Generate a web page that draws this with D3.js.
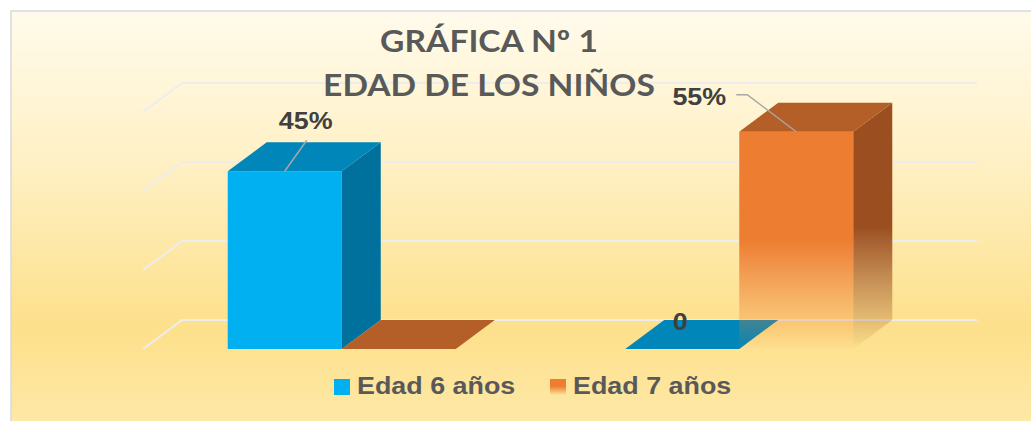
<!DOCTYPE html>
<html>
<head>
<meta charset="utf-8">
<script src="https://cdn.jsdelivr.net/npm/d3@7"></script>
<style>
  body { margin: 0; background: #fff; }
  svg { display: block; }
</style>
</head>
<body>
<svg id="chart"></svg>
<script>
// Chart data
const categories = ["Grupo 1", "Grupo 2"];
const series = ["Edad 6 años", "Edad 7 años"];
const edad6 = [0.45, 0];
const edad7 = [0, 0.55];
const labels6 = ["45%", "0"];
const labels7 = ["", "55%"];
const yTicks = [0, 0.2, 0.4, 0.6];
const titleLines = ["GRÁFICA Nº 1", "EDAD DE LOS NIÑOS"];

const W = 1031, H = 421;
const depth = { dx: 39, dy: 29 };   // 3D offset of the back wall
const plot = { left: 143, right: 938, base: 349, top: 112 };
const textStretch = 1.12;            // source picture is a bit wide

const colors = [
  { front: "#00b0f0", side: "#00709c", top: "#0086b8" },
  { front: "#ed7d31", side: "#9b4e1f", top: "#b45f27", fade: true }
];

// label offsets from the top-front centre of each bar (dragged labels in the original)
const labelPos = [
  [{ dx: 21, dy: -42, line: [[0, 0], [22, -31]] }, { dx: -2, dy: -19 }],
  [null, { dx: -97, dy: -27, line: [[0, 0], [-49, -37], [-60, -37]] }]
];

const svg = d3.select("#chart").attr("width", W).attr("height", H);
const defs = svg.append("defs");

const bg = defs.append("linearGradient").attr("id", "bg")
  .attr("x1", 0).attr("y1", 0).attr("x2", 0).attr("y2", 1);
[[0, "#fffbec"], [0.35, "#fff1c6"], [0.75, "#fde08b"], [1, "#fde9a9"]]
  .forEach(([o, c]) => bg.append("stop").attr("offset", o).attr("stop-color", c));

function fadeGrad(id, color, start) {
  const g = defs.append("linearGradient").attr("id", id)
    .attr("x1", 0).attr("y1", 0).attr("x2", 0).attr("y2", 1);
  g.append("stop").attr("offset", 0).attr("stop-color", color);
  g.append("stop").attr("offset", start).attr("stop-color", color);
  g.append("stop").attr("offset", 1).attr("stop-color", color).attr("stop-opacity", 0.02);
}
fadeGrad("fadeFront", colors[1].front, 0.5);
fadeGrad("fadeSide", colors[1].side, 0.5);
fadeGrad("fadeSwatch", colors[1].front, 0.45);

// Chart area frame
svg.append("rect")
  .attr("x", 11).attr("y", 11)
  .attr("width", W).attr("height", H)
  .attr("fill", "url(#bg)")
  .attr("stroke", "#d9d9d9").attr("stroke-width", 1.5);

// Scales
const x = d3.scaleBand().domain(categories).range([plot.left, plot.right]);
const xs = d3.scaleBand().domain(series).range([0, x.bandwidth()]).paddingOuter(0.743);
const y = d3.scaleLinear().domain([0, 0.6]).range([plot.base, plot.top]);

// Gridlines on back wall + left wall
svg.append("g").selectAll("path")
  .data(yTicks)
  .enter().append("path")
  .attr("d", t => `M${plot.left},${y(t)}L${plot.left + depth.dx},${y(t) - depth.dy}` +
                  `L${plot.right + depth.dx},${y(t) - depth.dy}`)
  .attr("fill", "none")
  .attr("stroke", "#ededed")
  .attr("stroke-width", 2);

// Title
const title = svg.append("g").attr("fill", "#595959")
  .style("font-family", "Lato, 'Open Sans', sans-serif")
  .style("font-weight", "bold")
  .style("font-size", "30px");
titleLines.forEach((t, i) => {
  title.append("g")
    .attr("transform", `translate(489,${52 + i * 44}) scale(${textStretch},1)`)
    .append("text")
    .attr("text-anchor", "middle")
    .text(t);
});

// Bars
const values = [edad6, edad7];
const labels = [labels6, labels7];
const bars = svg.append("g");
const labelLayer = svg.append("g");

categories.forEach((cat, ci) => {
  series.forEach((s, si) => {
    const v = values[si][ci];
    const x0 = x(cat) + xs(s);
    const w = xs.bandwidth();
    const yt = y(v), yb = y(0);
    const c = colors[si];
    const g = bars.append("g");

    if (v > 0) {
      g.append("rect")
        .attr("x", x0).attr("y", yt)
        .attr("width", w).attr("height", yb - yt)
        .attr("fill", c.fade ? "url(#fadeFront)" : c.front);
      g.append("path")
        .attr("d", `M${x0 + w},${yt}L${x0 + w + depth.dx},${yt - depth.dy}` +
                   `L${x0 + w + depth.dx},${yb - depth.dy}L${x0 + w},${yb}Z`)
        .attr("fill", c.fade ? "url(#fadeSide)" : c.side);
    }
    g.append("path")
      .attr("d", `M${x0},${yt}L${x0 + depth.dx},${yt - depth.dy}` +
                 `L${x0 + w + depth.dx},${yt - depth.dy}L${x0 + w},${yt}Z`)
      .attr("fill", c.top);

    // data label
    const lp = labelPos[si][ci];
    const txt = labels[si][ci];
    if (lp && txt) {
      const ax = x0 + w / 2, ay = yt;
      if (lp.line) {
        labelLayer.append("path")
          .attr("d", d3.line()(lp.line.map(p => [ax + p[0], ay + p[1]])))
          .attr("fill", "none")
          .attr("stroke", "#a6a6a6")
          .attr("stroke-width", 1.5);
      }
      labelLayer.append("g")
        .attr("transform", `translate(${ax + lp.dx},${ay + lp.dy}) scale(${textStretch},1)`)
        .append("text")
        .attr("text-anchor", "middle")
        .attr("fill", "#404040")
        .style("font-family", "'Liberation Sans', Arial, sans-serif")
        .style("font-weight", "bold")
        .style("font-size", "24px")
        .text(txt);
    }
  });
});

// Legend
const legendX = [334, 550];
const legend = svg.append("g");
series.forEach((s, si) => {
  legend.append("rect")
    .attr("x", legendX[si]).attr("y", 379)
    .attr("width", 16).attr("height", 16)
    .attr("fill", colors[si].fade ? "url(#fadeSwatch)" : colors[si].front);
  legend.append("g")
    .attr("transform", `translate(${legendX[si] + 23},394) scale(${textStretch},1)`)
    .append("text")
    .attr("fill", "#595959")
    .style("font-family", "'Liberation Sans', Arial, sans-serif")
    .style("font-weight", "bold")
    .style("font-size", "24px")
    .text(s);
});
</script>
</body>
</html>
